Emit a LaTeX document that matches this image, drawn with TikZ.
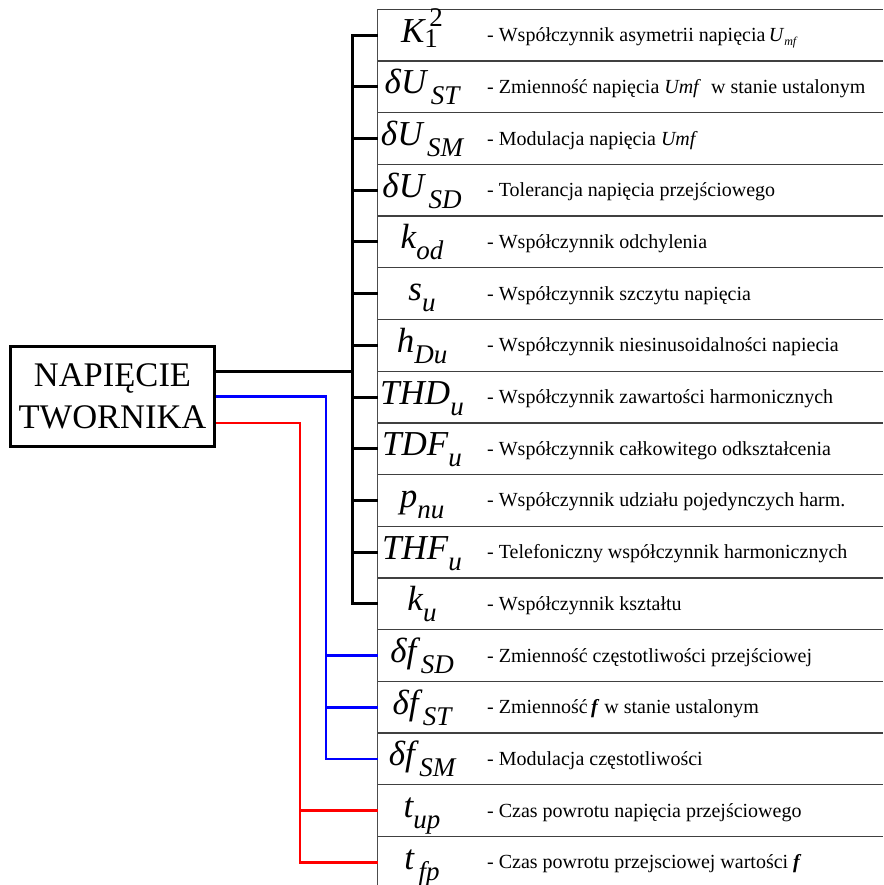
\documentclass[tikz,border=0pt]{standalone}
\usepackage{fontspec}
\setmainfont{Liberation Serif}

% symbol z indeksem dolnym
\newcommand{\wsk}[2]{{\fontsize{35}{35}\selectfont\itshape #1}\raisebox{-11pt}{\fontsize{27}{27}\selectfont\itshape #2}}
\newcommand{\wskK}{{\fontsize{35}{35}\selectfont\itshape K}\raisebox{-5pt}{\fontsize{27}{27}\selectfont 1}\hspace{-8.5pt}\raisebox{16pt}{\fontsize{27}{27}\selectfont 2}}
\newcommand{\Umf}{\textit{U}\raisebox{-4pt}{\fontsize{12}{12}\selectfont\itshape mf}}

\begin{document}
\begin{tikzpicture}[x=1pt,y=-1pt,
    linia/.style={line width=1.3pt,black!75},
    szyna/.style={line width=3pt},
    niebieski/.style={line width=2.5pt,blue},
    czerwony/.style={line width=2.5pt,red},
    sym/.style={anchor=base,inner sep=0pt},
    opis/.style={anchor=base west,inner sep=0pt,font=\fontsize{20}{20}\selectfont}]
  \def\h{51.7} % wysokość wiersza
  \def\g{9.3}  % górna krawędź tabeli
  \useasboundingbox (0,0) rectangle (883,885);

  % tabela
  \draw[line width=1pt,black!70] (377.7,\g) -- (377.7,885);
  \foreach \i in {0,...,16}
    \draw[linia] (377.7,{\g+\i*\h}) -- (883,{\g+\i*\h});

  % wiersze
  \foreach \i/\sy/\ds in {
      0/{\wskK}/{- Współczynnik asymetrii napięcia\,\Umf},
      1/{\wsk{δU}{\,ST}}/{- Zmienność napięcia \textit{Umf}\ \ w stanie ustalonym},
      2/{\wsk{δU}{\,SM}}/{- Modulacja napięcia \textit{Umf}},
      3/{\wsk{δU}{\,SD}}/{- Tolerancja napięcia przejściowego},
      4/{\wsk{k}{od}}/{- Współczynnik odchylenia},
      5/{\wsk{s}{u}}/{- Współczynnik szczytu napięcia},
      6/{\wsk{h}{Du}}/{- Współczynnik niesinusoidalności napiecia},
      7/{\wsk{THD}{u}}/{- Współczynnik zawartości harmonicznych},
      8/{\wsk{TDF}{u}}/{- Współczynnik całkowitego odkształcenia},
      9/{\wsk{p}{nu}}/{- Współczynnik udziału pojedynczych harm.},
      10/{\wsk{THF}{u}}/{- Telefoniczny współczynnik harmonicznych},
      11/{\wsk{k}{u}}/{- Współczynnik kształtu},
      12/{\wsk{δf}{\,SD}}/{- Zmienność częstotliwości przejściowej},
      13/{\wsk{δf}{\,ST}}/{- Zmienność\,\textbf{\textit{f}} w stanie ustalonym},
      14/{\wsk{δf}{\,SM}}/{- Modulacja częstotliwości},
      15/{\wsk{t}{up}}/{- Czas powrotu napięcia przejściowego},
      16/{\wsk{t}{\,fp}}/{- Czas powrotu przejsciowej wartości \textbf{\textit{f}}}}{
    \coordinate (w\i) at (377.7,{\g+\i*\h+\h/2});
    \node[sym] (s\i) at (422,{\g+\i*\h+\h/2+7}) {\sy};
    \node[opis] (d\i) at (487,{\g+\i*\h+\h/2+6.5}) {\ds};
  }

  % blok
  \node[draw,line width=3pt,minimum width=204pt,minimum height=100pt,
    inner sep=0pt,align=center,font=\fontsize{34.5}{42}\selectfont]
    (zrodlo) at (112.5,396.5) {NAPIĘCIE\\TWORNIKA};

  % szyny
  \coordinate (czarna) at (352,0);
  \coordinate (niebieska) at (326,0);
  \coordinate (czerwona) at (300,0);

  \draw[szyna] ([yshift=25.5pt]zrodlo.east) coordinate (k0) -- (czarna |- k0);
  \draw[szyna] (w0) -| (czarna |- w11) -- (w11);
  \foreach \i in {1,...,10}
    \draw[szyna] (czarna |- w\i) -- (w\i);

  \draw[niebieski] (zrodlo.east) -| (niebieska |- w14) -- (w14);
  \foreach \i in {12,13}
    \draw[niebieski] (niebieska |- w\i) -- (w\i);

  \draw[czerwony] ([yshift=-26.5pt]zrodlo.east) -| (czerwona |- w16) -- (w16);
  \draw[czerwony] (czerwona |- w15) -- (w15);
\end{tikzpicture}
\end{document}
